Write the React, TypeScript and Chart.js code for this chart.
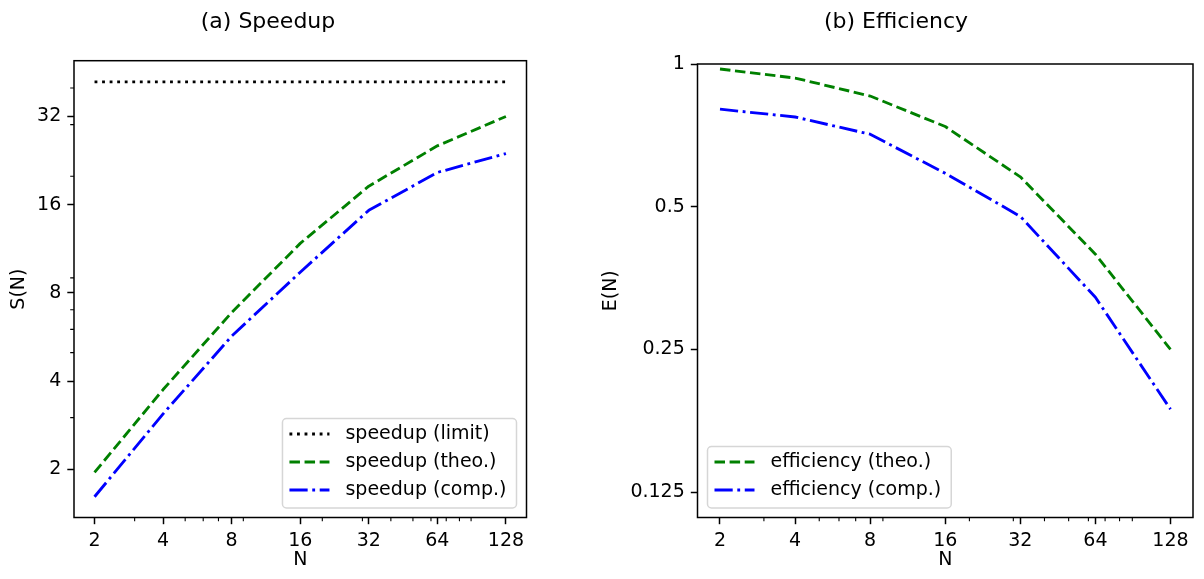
import React, { useEffect, useRef } from 'react';
import { Chart, registerables } from 'chart.js';

Chart.register(...registerables);

// ---- data ----
const nValues = [2, 4, 8, 16, 32, 64, 128];
const xTickLabels = ['2', '4', '8', '16', '32', '64', '128'];
const speedupLimit = [42, 42, 42, 42, 42, 42, 42];
const speedupTheo = [1.95, 3.74, 6.85, 11.8, 18.5, 25.4, 32.0];
const speedupComp = [1.61, 3.09, 5.69, 9.41, 15.3, 20.6, 23.9];
const efficiencyTheo = [0.976, 0.934, 0.856, 0.738, 0.578, 0.397, 0.25];
const efficiencyComp = [0.803, 0.773, 0.711, 0.588, 0.477, 0.322, 0.187];
const speedupTicks = [2, 4, 8, 16, 32];
const speedupTickLabels = ['2', '4', '8', '16', '32'];
const efficiencyTicks = [0.125, 0.25, 0.5, 1];
const efficiencyTickLabels = ['0.125', '0.25', '0.5', '1'];
const xMinorTicks = [3, 5, 6, 7, 9, 20, 30, 40, 50, 60, 70, 80, 90];
const speedupMinorTicks = [3, 5, 6, 7, 9, 20, 30, 40];

const FONT = '"DejaVu Sans"';
const LW = 2.85;
const DASH = [10.5, 4.6];
const DASHDOT = [18.2, 4.6, 2.85, 4.6];
const DOT = [2.85, 4.7];

const mplPlugin = {
  id: 'mpl',
  afterDraw(chart: any, _args: any, opts: any) {
    const { ctx, chartArea: a, scales } = chart;
    ctx.save();
    // minor ticks
    ctx.strokeStyle = '#000';
    ctx.lineWidth = 1.1;
    ctx.setLineDash([]);
    ctx.beginPath();
    (opts.minorX || []).forEach((v: number) => {
      const px = scales.x.getPixelForValue(v);
      if (px >= a.left && px <= a.right) {
        ctx.moveTo(px, a.bottom);
        ctx.lineTo(px, a.bottom + 3.8);
      }
    });
    (opts.minorY || []).forEach((v: number) => {
      const py = scales.y.getPixelForValue(v);
      if (py >= a.top && py <= a.bottom) {
        ctx.moveTo(a.left, py);
        ctx.lineTo(a.left - 3.8, py);
      }
    });
    ctx.stroke();
    // frame
    ctx.lineWidth = 1.5;
    ctx.strokeRect(a.left, a.top, a.right - a.left, a.bottom - a.top);
    // title
    ctx.fillStyle = '#000';
    ctx.font = `22px ${FONT}`;
    ctx.textAlign = 'center';
    ctx.textBaseline = 'middle';
    ctx.fillText(opts.title, opts.titleX, opts.titleY);
    // legend
    ctx.font = `19px ${FONT}`;
    const items = chart.data.datasets;
    const textW = Math.max(...items.map((d: any) => ctx.measureText(d.label).width));
    const rowH = 28;
    const boxW = 63 + textW + 10;
    const boxH = 15.5 + rowH * (items.length - 1) + 18;
    const bx = opts.legendSide === 'right' ? a.right - 10 - boxW : a.left + 10;
    const by = a.bottom - 9.5 - boxH;
    const r = 4;
    ctx.beginPath();
    ctx.moveTo(bx + r, by);
    ctx.lineTo(bx + boxW - r, by);
    ctx.arcTo(bx + boxW, by, bx + boxW, by + r, r);
    ctx.lineTo(bx + boxW, by + boxH - r);
    ctx.arcTo(bx + boxW, by + boxH, bx + boxW - r, by + boxH, r);
    ctx.lineTo(bx + r, by + boxH);
    ctx.arcTo(bx, by + boxH, bx, by + boxH - r, r);
    ctx.lineTo(bx, by + r);
    ctx.arcTo(bx, by, bx + r, by, r);
    ctx.closePath();
    ctx.fillStyle = 'rgba(255,255,255,0.8)';
    ctx.fill();
    ctx.strokeStyle = 'rgba(204,204,204,0.8)';
    ctx.lineWidth = 1.5;
    ctx.stroke();
    items.forEach((d: any, i: number) => {
      const cy = by + 15.5 + i * rowH;
      ctx.setLineDash(d.borderDash || []);
      ctx.lineWidth = d.borderWidth;
      ctx.strokeStyle = d.borderColor;
      ctx.lineCap = 'butt';
      ctx.beginPath();
      ctx.moveTo(bx + 7, cy);
      ctx.lineTo(bx + 47, cy);
      ctx.stroke();
      ctx.setLineDash([]);
      ctx.fillStyle = '#000';
      ctx.textAlign = 'left';
      ctx.textBaseline = 'middle';
      ctx.fillText(d.label, bx + 63, cy);
    });
    ctx.restore();
  },
};

function makeDataset(label: string, values: number[], color: string, dash: number[]) {
  return {
    label,
    data: nValues.map((n, i) => ({ x: n, y: values[i] })),
    borderColor: color,
    backgroundColor: color,
    borderWidth: LW,
    borderDash: dash,
    borderCapStyle: 'butt',
    borderJoinStyle: 'round',
    pointRadius: 0,
    tension: 0,
    fill: false,
  };
}

function axisCfg(
  min: number,
  max: number,
  ticks: number[],
  labels: string[],
  isX: boolean,
  size: number,
  title: string,
  titlePad: any,
) {
  return {
    type: 'logarithmic',
    min,
    max,
    bounds: 'data',
    afterBuildTicks: (s: any) => {
      s.ticks = ticks.map((v) => ({ value: v }));
    },
    afterFit: (s: any) => {
      if (isX) s.height = size;
      else s.width = size;
    },
    ticks: {
      callback: (_v: any, idx: number) => labels[idx],
      font: { family: FONT, size: 19 },
      color: '#000',
      padding: isX ? 5 : 6,
      autoSkip: false,
      maxRotation: 0,
      minRotation: 0,
    },
    grid: {
      drawOnChartArea: false,
      drawTicks: true,
      tickLength: 6.7,
      tickWidth: 1.5,
      tickColor: '#000',
    },
    border: { display: false },
    title: {
      display: true,
      text: title,
      color: '#000',
      font: { family: FONT, size: 19 },
      padding: titlePad,
    },
  };
}

function ChartPanel(props: { config: any; left: number; width: number }) {
  const ref = useRef<HTMLCanvasElement>(null);
  useEffect(() => {
    if (!ref.current) return;
    const chart = new Chart(ref.current, props.config);
    return () => chart.destroy();
  }, []);
  return (
    <div style={{ position: 'absolute', left: props.left, top: 0, width: props.width, height: 579 }}>
      <canvas ref={ref} />
    </div>
  );
}

const speedupConfig: any = {
  type: 'line',
  data: {
    datasets: [
      makeDataset('speedup (limit)', speedupLimit, '#000000', DOT),
      makeDataset('speedup (theo.)', speedupTheo, '#008000', DASH),
      makeDataset('speedup (comp.)', speedupComp, '#0000ff', DASHDOT),
    ],
  },
  options: {
    animation: false,
    responsive: true,
    maintainAspectRatio: false,
    layout: { padding: { left: 0, right: 73.5, top: 60.7, bottom: 0 } },
    scales: {
      x: axisCfg(1.625, 157.6, nValues, xTickLabels, true, 61.5, 'N', { top: 0, bottom: 7.6 }),
      y: axisCfg(1.368, 49.6, speedupTicks, speedupTickLabels, false, 74, 'S(N)', { top: 7.6, bottom: 0 }),
    },
    plugins: {
      legend: { display: false },
      tooltip: { enabled: false },
      mpl: {
        title: '(a) Speedup',
        titleX: 268,
        titleY: 22,
        legendSide: 'right',
        minorX: xMinorTicks,
        minorY: speedupMinorTicks,
      },
    },
  },
  plugins: [mplPlugin],
};

const efficiencyConfig: any = {
  type: 'line',
  data: {
    datasets: [
      makeDataset('efficiency (theo.)', efficiencyTheo, '#008000', DASH),
      makeDataset('efficiency (comp.)', efficiencyComp, '#0000ff', DASHDOT),
    ],
  },
  options: {
    animation: false,
    responsive: true,
    maintainAspectRatio: false,
    layout: { padding: { left: 0, right: 11, top: 64, bottom: 0 } },
    scales: {
      x: axisCfg(1.625, 157.6, nValues, xTickLabels, true, 61.5, 'N', { top: 0, bottom: 7.6 }),
      y: axisCfg(0.1105, 1, efficiencyTicks, efficiencyTickLabels, false, 97.5, 'E(N)', { top: 0, bottom: 0 }),
    },
    plugins: {
      legend: { display: false },
      tooltip: { enabled: false },
      mpl: {
        title: '(b) Efficiency',
        titleX: 296,
        titleY: 22,
        legendSide: 'left',
        minorX: xMinorTicks,
        minorY: [],
      },
    },
  },
  plugins: [mplPlugin],
};

export default function App() {
  return (
    <div style={{ position: 'absolute', left: 0, top: 0, width: 1204, height: 579, background: '#fff' }}>
      <ChartPanel config={speedupConfig} left={0} width={600} />
      <ChartPanel config={efficiencyConfig} left={600} width={604} />
    </div>
  );
}
